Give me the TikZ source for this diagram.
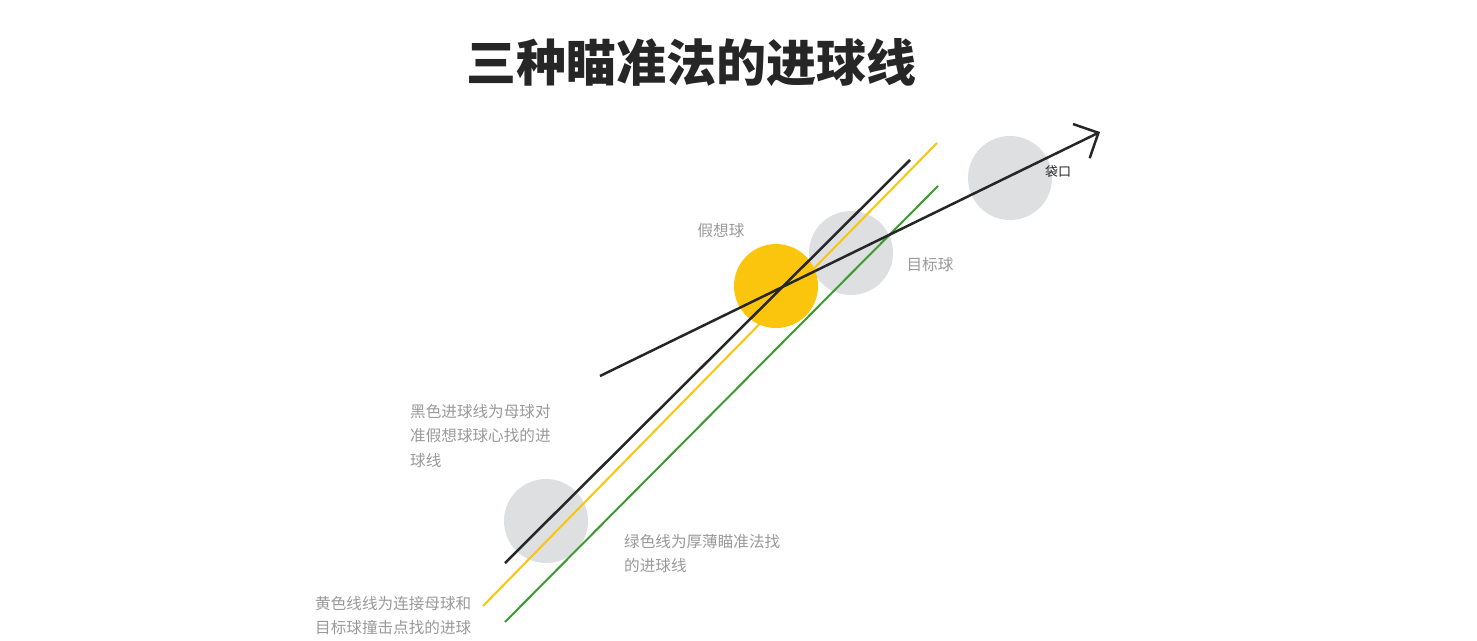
\documentclass[tikz,border=0pt]{standalone}
\usepackage{fontspec}
\setmainfont{Noto Sans CJK SC}
\usetikzlibrary{arrows.meta}
\definecolor{ballgray}{HTML}{DEDFE1}
\definecolor{ghostyellow}{HTML}{FAC50C}
\definecolor{linegreen}{HTML}{3C9B30}
\definecolor{lineblack}{HTML}{262626}
\definecolor{notegray}{HTML}{9A9A9A}
\tikzset{
  ball/.style={circle, fill=ballgray, minimum size=84pt, inner sep=0pt},
  note/.style={text=notegray, font=\fontsize{15.6}{24.5}\selectfont, align=left, anchor=north west, inner sep=0pt}
}
\begin{document}
\begin{tikzpicture}[x=1pt, y=-1pt]
        \useasboundingbox [fill=white] (0,0) rectangle (1477,640);
        %\draw [help lines, step=50] (0,0) grid (1477,640);
        \node [font=\fontsize{50}{50}\selectfont\bfseries, text=lineblack] (title) at (691,62) {三种瞄准法的进球线};
        
        \node [ball] (pocket) at (1010,178) {};
        \node [ball] (target) at (851,253) {};
        \node [ball] (cue) at (546,521) {};
        \node [ball, fill=ghostyellow] (ghost) at (776,286) {};
        
        \coordinate (black1) at (505,563);
        \coordinate (black2) at (910,160);
        \coordinate (yellow1) at (483,606);
        \coordinate (yellow2) at (937,143);
        \coordinate (green1) at (505,622);
        \coordinate (green2) at (938,186);
        \coordinate (shot1) at (600,376);
        \coordinate (shot2) at (1100,132);
        
        \draw [line width=2pt, ghostyellow] (yellow1) -- (yellow2);
        \draw [line width=2pt, linegreen] (green1) -- (green2);
        \draw [line width=2.5pt, lineblack] (black1) -- (black2);
        \draw [line width=2.5pt, lineblack, -{Straight Barb[length=19pt, width=38pt]}] (shot1) -- (shot2);
        
        \node [text=notegray, font=\fontsize{15.6}{17}\selectfont] (ghostlabel) at (721,231) {假想球};
        \node [text=notegray, font=\fontsize{15.6}{17}\selectfont] (targetlabel) at (930,265) {目标球};
        \node [text=lineblack, font=\fontsize{13}{15}\selectfont] (pocketlabel) at (1058,171) {袋口};
        
        \node [note] (blacknote) at (410,404) {黑色进球线为母球对\\准假想球球心找的进\\球线};
        \node [note] (greennote) at (624,534) {绿色线为厚薄瞄准法找\\的进球线};
        \node [note] (yellownote) at (315,596) {黄色线线为连接母球和\\目标球撞击点找的进球};
        
    \end{tikzpicture}
\end{document}
